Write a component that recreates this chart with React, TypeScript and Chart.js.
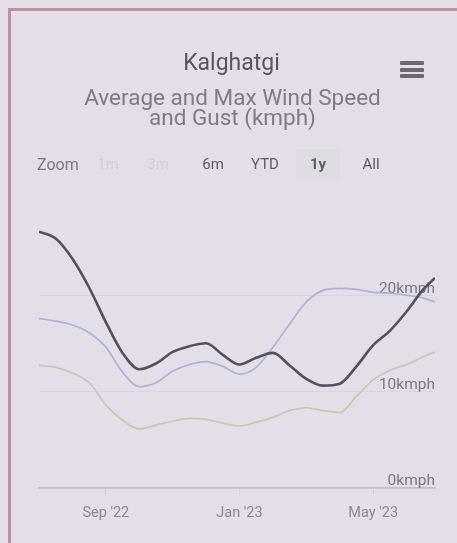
import React, { useEffect, useRef } from "react";
import { Chart, registerables } from "chart.js";

Chart.register(...registerables);

// Month offsets from 1 Jul 2022
const xMonths = [0, 0.5, 1, 1.5, 2, 2.5, 3, 3.5, 4, 4.5, 5, 5.5, 6, 6.5, 7, 7.5, 8, 8.5, 9, 9.5, 10, 10.5, 11, 11.5, 11.85];
const maxGust = [26.6, 25.9, 23.8, 20.8, 17.2, 14.0, 12.3, 12.9, 14.1, 14.7, 15.0, 13.8, 12.8, 13.5, 14.0, 12.7, 11.3, 10.6, 10.8, 12.6, 14.8, 16.3, 18.3, 20.6, 21.8];
const maxWind = [17.6, 17.3, 16.9, 16.1, 14.6, 12.0, 10.5, 10.9, 12.1, 12.8, 13.1, 12.6, 11.8, 12.5, 14.6, 17.0, 19.3, 20.5, 20.7, 20.6, 20.3, 20.2, 20.0, 19.7, 19.3];
const avgWind = [12.7, 12.5, 11.9, 10.9, 8.6, 7.0, 6.1, 6.5, 6.9, 7.2, 7.1, 6.7, 6.4, 6.8, 7.3, 8.0, 8.3, 8.0, 7.8, 9.5, 11.2, 12.2, 12.8, 13.6, 14.1];

const xTickValues = [2, 6, 10];
const xTickLabels = ["Sep '22", "Jan '23", "May '23"];
const yTickValues = [0, 10, 20];
const yTickLabels = ["0kmph", "10kmph", "20kmph"];

const zoomButtons = ["1m", "3m", "6m", "YTD", "1y", "All"];

const FONT = "Roboto, 'Noto Sans', sans-serif";

export default function App() {
  const canvasRef = useRef<HTMLCanvasElement | null>(null);

  useEffect(() => {
    if (!canvasRef.current) return;
    const toPts = (arr: number[]) => xMonths.map((x, i) => ({ x, y: arr[i] }));
    const common = { pointRadius: 0, tension: 0.4, cubicInterpolationMode: "monotone" as const, fill: false };
    const chart = new Chart(canvasRef.current, {
      type: "line",
      data: {
        datasets: [
          { label: "Max Gust", data: toPts(maxGust), borderColor: "#574f60", borderWidth: 2.6, ...common },
          { label: "Max Wind", data: toPts(maxWind), borderColor: "#b1b1d3", borderWidth: 1.7, ...common },
          { label: "Average Wind", data: toPts(avgWind), borderColor: "#c6c9b1", borderWidth: 1.7, ...common },
        ],
      },
      options: {
        animation: false,
        responsive: false,
        maintainAspectRatio: false,
        layout: { padding: { left: 39, right: 22, top: 199, bottom: 11 } },
        plugins: { legend: { display: false }, tooltip: { enabled: false }, title: { display: false } },
        scales: {
          x: {
            type: "linear",
            min: 0,
            max: 11.85,
            afterBuildTicks: (s: any) => {
              s.ticks = xTickValues.map((v) => ({ value: v }));
            },
            ticks: {
              autoSkip: false,
              maxRotation: 0,
              padding: 10,
              color: "#8c8892",
              font: { family: FONT, size: 14.5 },
              callback: (v: any) => {
                const i = xTickValues.indexOf(Number(v));
                return i >= 0 ? xTickLabels[i] : "";
              },
            },
            grid: { drawOnChartArea: false, drawTicks: true, tickLength: 7, color: "#d2ced6" },
            border: { display: true, color: "#c4c0c9", width: 1.5 },
          },
          y: {
            position: "right",
            min: 0,
            max: 30,
            afterBuildTicks: (s: any) => {
              s.ticks = yTickValues.map((v) => ({ value: v }));
            },
            ticks: {
              mirror: true,
              padding: 0,
              labelOffset: -6,
              color: "#7c7882",
              font: { family: FONT, size: 15.5 },
              callback: (v: any) => {
                const i = yTickValues.indexOf(Number(v));
                return i >= 0 ? yTickLabels[i] : "";
              },
            },
            grid: {
              drawTicks: false,
              color: (ctx: any) => (ctx.tick && ctx.tick.value === 0 ? "#c4c0c9" : "#d9d5de"),
              lineWidth: (ctx: any) => (ctx.tick && ctx.tick.value === 0 ? 1.5 : 1),
            },
            border: { display: false },
          },
        },
      },
    });
    return () => chart.destroy();
  }, []);

  const btnX = [108, 158, 213, 265, 318, 371];

  return (
    <div style={{ position: "fixed", left: 0, top: 0, width: 457, height: 543, background: "#e3dee7", overflow: "hidden", fontFamily: FONT }}>
      <div style={{ position: "absolute", left: 8, top: 8, width: 460, height: 560, borderLeft: "3px solid #c18fa4", borderTop: "3px solid #c18fa4" }} />
      <canvas ref={canvasRef} width={457} height={543} style={{ position: "absolute", left: 0, top: 0, width: 457, height: 543 }} />
      <div style={{ position: "absolute", left: 0, width: 463, top: 50, textAlign: "center", fontSize: 23, color: "#59565e", lineHeight: "26px" }}>Kalghatgi</div>
      <div style={{ position: "absolute", left: 0, width: 465, top: 87, textAlign: "center", fontSize: 22.5, color: "#7f7b85", lineHeight: "20px" }}>
        Average and Max Wind Speed
        <br />
        and Gust (kmph)
      </div>
      <div style={{ position: "absolute", left: 400, top: 61, width: 24, height: 4, background: "#6b6870", borderRadius: 1 }} />
      <div style={{ position: "absolute", left: 400, top: 67.5, width: 24, height: 4, background: "#6b6870", borderRadius: 1 }} />
      <div style={{ position: "absolute", left: 400, top: 74, width: 24, height: 4, background: "#6b6870", borderRadius: 1 }} />
      <div style={{ position: "absolute", left: 37, top: 155, fontSize: 16, color: "#7d7983" }}>Zoom</div>
      <div style={{ position: "absolute", left: 296, top: 149, width: 44, height: 31, background: "#dfdbe3" }} />
      {zoomButtons.map((b, i) => (
        <div
          key={b}
          style={{
            position: "absolute",
            left: btnX[i] - 30,
            width: 60,
            top: 155,
            textAlign: "center",
            fontSize: 15,
            fontWeight: b === "1y" ? 700 : 400,
            color: i < 2 ? "#d3cfd7" : "#5e5b63",
          }}
        >
          {b}
        </div>
      ))}
    </div>
  );
}
